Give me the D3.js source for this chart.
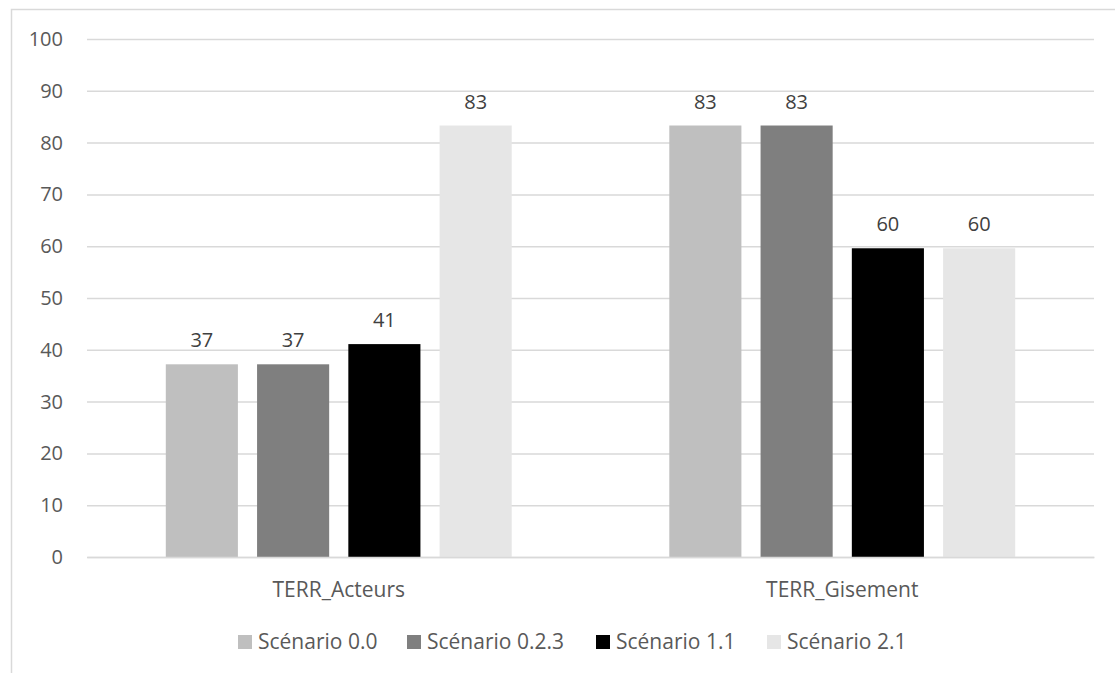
<!DOCTYPE html>
<html>
<head>
<meta charset="utf-8">
<script src="https://cdn.jsdelivr.net/npm/d3@7"></script>
<style>
  body { margin: 0; background: #fff; }
  svg text { font-family: "Open Sans", sans-serif; }
</style>
</head>
<body>
<div id="chart"></div>
<script>
// Data
var categories = ["TERR_Acteurs", "TERR_Gisement"];
var seriesNames = ["Scénario 0.0", "Scénario 0.2.3", "Scénario 1.1", "Scénario 2.1"];
var valsActeurs = [37.2, 37.2, 41.1, 83.3];
var valsGisement = [83.3, 83.3, 59.6, 59.6];
var yTicks = [0, 10, 20, 30, 40, 50, 60, 70, 80, 90, 100];
var colors = ["#bfbfbf", "#7f7f7f", "#000000", "#e6e6e6"];

var W = 1115, H = 673;
var plot = { left: 87, right: 1094, top: 39, bottom: 557 };
var numSize = "20px";
var textSize = "21px";

var svg = d3.select("#chart").append("svg")
  .attr("width", W)
  .attr("height", H);

// outer frame
svg.append("rect")
  .attr("x", 11.5).attr("y", 9.5)
  .attr("width", W).attr("height", H)
  .attr("fill", "none")
  .attr("stroke", "#d9d9d9")
  .attr("stroke-width", 1.5);

var yScale = d3.scaleLinear().domain([0, 100]).range([plot.bottom, plot.top]);

var x0 = d3.scaleBand().domain(categories).range([plot.left, plot.right]).padding(0);
var outerGap = x0.bandwidth() * 0.1565;
var x1 = d3.scaleBand().domain(seriesNames)
  .range([outerGap, x0.bandwidth() - outerGap])
  .paddingInner(0.21).paddingOuter(0);

// gridlines + y labels
var yAxis = svg.append("g")
  .attr("transform", "translate(" + plot.left + ",0)")
  .call(d3.axisLeft(yScale).tickValues(yTicks).tickSize(-(plot.right - plot.left)).tickPadding(24));
yAxis.select(".domain").remove();
yAxis.selectAll(".tick line").attr("stroke", "#d9d9d9").attr("stroke-width", 1.5);
yAxis.selectAll(".tick text")
  .attr("fill", "#595959")
  .style("font-size", numSize);

var table = categories.map(function (c, i) {
  var v = i === 0 ? valsActeurs : valsGisement;
  return { cat: c, values: seriesNames.map(function (s, j) { return { name: s, value: v[j], color: colors[j] }; }) };
});

var groups = svg.selectAll(".grp")
  .data(table)
  .enter().append("g")
  .attr("class", "grp")
  .attr("transform", function (d) { return "translate(" + x0(d.cat) + ",0)"; });

groups.selectAll("rect")
  .data(function (d) { return d.values; })
  .enter().append("rect")
  .attr("x", function (d) { return x1(d.name); })
  .attr("width", x1.bandwidth())
  .attr("y", function (d) { return yScale(d.value); })
  .attr("height", function (d) { return yScale(0) - yScale(d.value); })
  .attr("fill", function (d) { return d.color; });

groups.selectAll(".lbl")
  .data(function (d) { return d.values; })
  .enter().append("text")
  .attr("class", "lbl")
  .attr("x", function (d) { return x1(d.name) + x1.bandwidth() / 2; })
  .attr("y", function (d) { return yScale(d.value) - 17; })
  .attr("text-anchor", "middle")
  .attr("fill", "#404040")
  .style("font-size", numSize)
  .text(function (d) { return Math.round(d.value); });

// x axis baseline and category labels
var xAxis = svg.append("g")
  .attr("transform", "translate(0," + plot.bottom + ")")
  .call(d3.axisBottom(x0).tickSize(0));
xAxis.select(".domain").attr("stroke", "#d9d9d9").attr("stroke-width", 1.5);
xAxis.selectAll(".tick text")
  .attr("y", 40).attr("dy", null)
  .attr("fill", "#595959")
  .style("font-size", textSize);

// legend
var legendX = [238, 407, 596, 767];
var legend = svg.selectAll(".leg")
  .data(seriesNames)
  .enter().append("g")
  .attr("class", "leg")
  .attr("transform", function (d, i) { return "translate(" + legendX[i] + ",635)"; });

legend.append("rect")
  .attr("width", 14).attr("height", 14)
  .attr("fill", function (d, i) { return colors[i]; });

legend.append("text")
  .attr("x", 20).attr("y", 7)
  .attr("dy", "0.35em")
  .attr("fill", "#595959")
  .style("font-size", textSize)
  .text(function (d) { return d; });
</script>
</body>
</html>
